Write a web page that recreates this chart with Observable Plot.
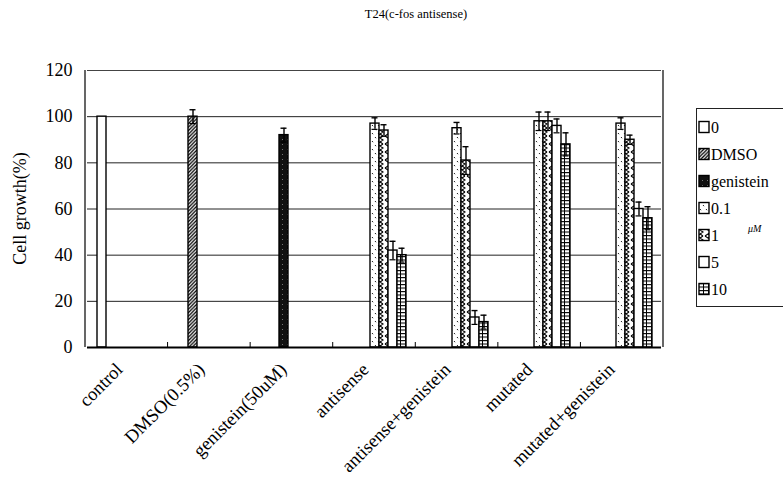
<!DOCTYPE html>
<html><head><meta charset="utf-8">
<script src="https://cdn.jsdelivr.net/npm/d3@7"></script>
<script src="https://cdn.jsdelivr.net/npm/@observablehq/plot@0.6"></script>
<style>
html,body{margin:0;padding:0;background:#fff}
body{width:783px;height:481px;overflow:hidden;position:relative;font-family:"Liberation Serif","Times New Roman",serif;color:#000}
#title{position:absolute;left:416px;top:6px;transform:translateX(-50%);font-size:12.5px;white-space:nowrap;line-height:16px;font-family:"Liberation Serif",serif}
#chart{position:absolute;left:0;top:32px}
#legend{position:absolute;left:696px;top:108px;overflow:visible}
g[aria-label^="fx-axis"] text{font-size:18.5px}
g[aria-label^="y-axis"] text{font-size:18px}
</style></head><body>
<div id="title">T24(c-fos antisense)</div>
<div id="chart"></div>
<svg id="legend" width="87" height="201">
<defs>
<pattern id="p0" patternUnits="userSpaceOnUse" width="4" height="4"><rect width="4" height="4" fill="#fff"/></pattern>
<pattern id="pDMSO" patternUnits="userSpaceOnUse" width="3.5" height="3.5"><rect width="3.5" height="3.5" fill="#fff"/><path d="M-1,1 L1,-1 M0,3.5 L3.5,0 M2.5,4.5 L4.5,2.5" stroke="#000" stroke-width="1.3"/></pattern>
<pattern id="pGen" patternUnits="userSpaceOnUse" width="5" height="5"><rect width="5" height="5" fill="#111"/><rect x="1" y="2" width="1" height="1" fill="#777"/></pattern>
<pattern id="p01" patternUnits="userSpaceOnUse" width="6" height="8"><rect width="6" height="8" fill="#fff"/><path d="M1,1 L2,2.2 M4,5 L5,6.2" stroke="#000" stroke-width="0.9"/></pattern>
<pattern id="p1" patternUnits="userSpaceOnUse" width="8" height="8"><rect width="8" height="8" fill="#fff"/><path d="M1,0 L7,4 L1,8 M7,0 L4,2 M7,8 L4,6" stroke="#000" stroke-width="1.1" fill="none"/></pattern>
<pattern id="p5" patternUnits="userSpaceOnUse" width="4" height="4"><rect width="4" height="4" fill="#fff"/></pattern>
<pattern id="p10" patternUnits="userSpaceOnUse" width="5" height="3.5"><rect width="5" height="3.5" fill="#fff"/><path d="M0,0.5 L5,0.5 M2.5,0 L2.5,3.5" stroke="#000" stroke-width="1"/></pattern>
</defs>
</svg>
<script>
// ---- data ----
const categories = ["control","DMSO(0.5%)","genistein(50uM)","antisense","antisense+genistein","mutated","mutated+genistein"];
const series = ["0","DMSO","genistein","0.1","1","5","10"];
const seriesPatterns = ["url(#p0)","url(#pDMSO)","url(#pGen)","url(#p01)","url(#p1)","url(#p5)","url(#p10)"];
const yTicks = [0,20,40,60,80,100,120];
const yLabel = "Cell growth(%)";

const barCategory = ["control","DMSO(0.5%)","genistein(50uM)",
  "antisense","antisense","antisense","antisense",
  "antisense+genistein","antisense+genistein","antisense+genistein","antisense+genistein",
  "mutated","mutated","mutated","mutated",
  "mutated+genistein","mutated+genistein","mutated+genistein","mutated+genistein"];
const barSeries = ["0","DMSO","genistein",
  "0.1","1","5","10",
  "0.1","1","5","10",
  "0.1","1","5","10",
  "0.1","1","5","10"];
const barValue = [100,100,92,
  97,94,42,40,
  95,81,13,11,
  98,98,96,88,
  97,90,60,56];
const barError = [0,3,3,
  2.5,2.5,4,3,
  2.5,6,3,3,
  4,4,3,5,
  2.5,2,3,5];

const legendLabels = ["0","DMSO","genistein","0.1","1","5","10"];
const unitLabel = "\u03bcM";

// ---- build ----
const FONT = '"Liberation Serif","Times New Roman",serif';
const bars = barCategory.map((c,i)=>({cat:c, series:barSeries[i], value:barValue[i], err:barError[i]}));
const errBars = bars.filter(d=>d.err>0);

const plot = Plot.plot({
  width: 783,
  height: 449,
  marginLeft: 85,
  marginRight: 120,
  marginTop: 38,
  marginBottom: 134,
  style: {fontFamily: FONT, fontSize: "17px", color: "#000", background: "transparent", overflow: "visible"},
  fx: {domain: categories, padding: 0, axis: "bottom", tickRotate: -45, tickSize: 0, tickPadding: 16, label: null},
  x: {domain: series, paddingInner: 0, paddingOuter: 0.63, axis: null},
  y: {domain: [0,120], ticks: yTicks, tickSize: 0, tickPadding: 15, label: null, tickFormat: d=>String(d)},
  color: {type: "ordinal", domain: series, range: seriesPatterns},
  marks: [
    Plot.ruleY(yTicks.filter(t=>t>0 && t<120), {stroke: "#222", strokeWidth: 1}),
    Plot.ruleY([120], {stroke: "#444", strokeWidth: 1}),
    Plot.barY(bars, {fx: "cat", x: "series", y: "value", fill: "series", stroke: "#000", strokeWidth: 1.4}),
    Plot.ruleX(errBars, {fx: "cat", x: "series", y1: d=>d.value-d.err, y2: d=>d.value+d.err, stroke: "#000", strokeWidth: 1.4}),
    Plot.tickY(errBars, {fx: "cat", x: "series", y: d=>d.value+d.err, stroke: "#000", strokeWidth: 1.4, insetLeft: 1.5, insetRight: 1.5}),
    Plot.tickY(errBars, {fx: "cat", x: "series", y: d=>d.value-d.err, stroke: "#000", strokeWidth: 1.2, insetLeft: 1.5, insetRight: 1.5}),
    Plot.ruleY([0], {stroke: "#000", strokeWidth: 2})
  ]
});
document.getElementById("chart").appendChild(plot);

// frame and boundary ticks
const fx = plot.scale("fx"), ys = plot.scale("y");
const [x0, x1] = fx.range, [yb, yt] = ys.range;
const svg = d3.select(plot);
const g = svg.append("g").attr("stroke", "#000").attr("fill", "none");
g.append("line").attr("x1", x0).attr("x2", x0).attr("y1", yt).attr("y2", yb).attr("stroke-width", 1.2);
g.append("line").attr("x1", x1).attr("x2", x1).attr("y1", yt).attr("y2", yb).attr("stroke-width", 1.2);
const step = (x1 - x0) / categories.length;
for (let i = 1; i < categories.length; i++) {
  g.append("line").attr("x1", x0 + i*step).attr("x2", x0 + i*step).attr("y1", yb).attr("y2", yb - 5).attr("stroke-width", 1);
}
// y label
svg.append("text").attr("transform", `translate(20,${(yb+yt)/2}) rotate(-90)`)
  .attr("text-anchor", "middle").attr("dy", "0.35em").attr("font-size", 18).attr("font-family", FONT).attr("fill", "#000").text(yLabel);
// shift fx tick labels
const fxAxis = svg.select('g[aria-label^="fx-axis"]');
if (!fxAxis.empty()) {
  const t = fxAxis.attr("transform") || "";
  fxAxis.attr("transform", t + " translate(-9,3)");
}

// legend
const leg = d3.select("#legend");
leg.append("rect").attr("x", 0.5).attr("y", 0.5).attr("width", 120).attr("height", 198).attr("fill", "#fff").attr("stroke", "#222").attr("stroke-width", 1);
legendLabels.forEach((lab, i) => {
  const cy = 19 + i*27;
  leg.append("rect").attr("x", 3).attr("y", cy - 5.5).attr("width", 10).attr("height", 11)
    .attr("fill", seriesPatterns[i]).attr("stroke", "#000").attr("stroke-width", 1.4);
  leg.append("text").attr("x", 15).attr("y", cy).attr("dy", "0.35em")
    .attr("font-size", 16).attr("font-family", FONT).text(lab);
});
leg.append("text").attr("x", 52).attr("y", 124).attr("font-size", 10).attr("font-style", "italic")
  .attr("font-family", FONT).text(unitLabel);
</script>
</body></html>
